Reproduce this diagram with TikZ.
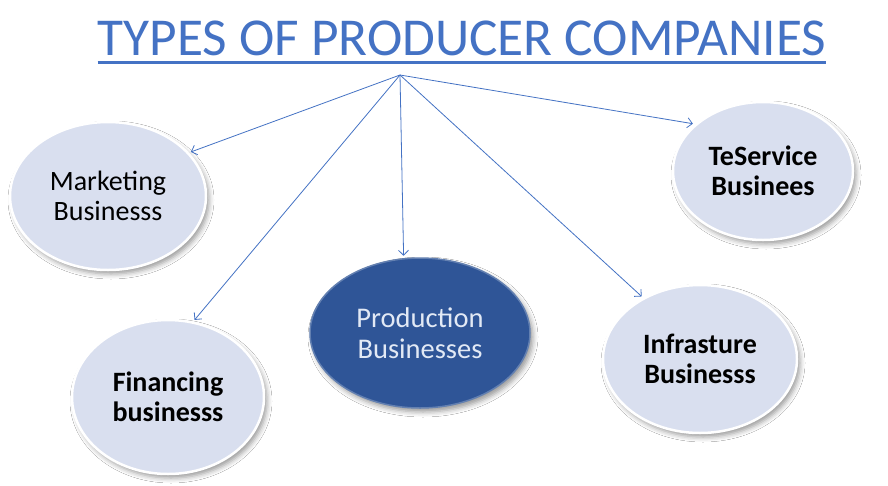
\documentclass[tikz,border=0pt]{standalone}
\usepackage{fontspec}
\setmainfont{Carlito}
\usetikzlibrary{arrows.meta,shapes.geometric,shadows.blur}
\definecolor{ttl}{HTML}{4472C4}
\definecolor{pale}{HTML}{D9DFEF}
\definecolor{deep}{HTML}{2F5597}
\definecolor{deeptext}{HTML}{E2E9F5}
\begin{document}
\begin{tikzpicture}[x=1pt,y=-1pt,
  bubble/.style={ellipse, inner sep=0pt, outer sep=3pt, fill=pale, draw=white, line width=2.5pt,
    blur shadow={shadow xshift=3pt,shadow yshift=-4pt,shadow blur radius=5pt,shadow opacity=40},
    align=center, font=\fontsize{28}{30.5}\selectfont},
  boldlbl/.style={font=\fontsize{28}{30.5}\selectfont\bfseries},
  link/.style={draw=ttl, line width=0.8pt, -{Straight Barb[length=5pt,width=10pt]}},
  titlestyle/.style={inner sep=0pt, anchor=base, text=ttl, font=\fontsize{53.3}{60}\selectfont},
  underline/.style={draw=ttl, line width=2.5pt}
]
\useasboundingbox[fill=white] (0,0) rectangle (888,485);

\node[titlestyle] (title) at (462,55) {TYPES OF PRODUCER COMPANIES};
\draw[underline] ([yshift=-7.5pt]title.base west) -- ([yshift=-7.5pt]title.base east);

\coordinate (hub) at (400,75);

\node[bubble, minimum width=196pt, minimum height=148pt] (mkt) at (108,196) {Marketing\\Businesss};
\node[bubble, boldlbl, minimum width=192pt, minimum height=154pt] (fin) at (168,397) {Financing\\businesss};
\node[bubble, fill=deep, draw=deep!75!white, line width=1.5pt, text=deeptext, font=\fontsize{28.5}{31}\selectfont, minimum width=220pt, minimum height=150pt] (prod) at (420,333) {Production\\Businesses};
\node[bubble, boldlbl, minimum width=180pt, minimum height=138pt] (tes) at (763,171) {TeService\\Businees};
\node[bubble, boldlbl, minimum width=194pt, minimum height=148pt] (inf) at (700,359) {Infrasture\\Businesss};

\draw[link] (hub) -- (mkt.28);
\draw[link] (hub) -- (fin.71);
\draw[link] (hub) -- (prod.102);
\draw[link] (hub) -- (inf.133);
\draw[link] (hub) -- (tes.146);
\end{tikzpicture}
\end{document}
